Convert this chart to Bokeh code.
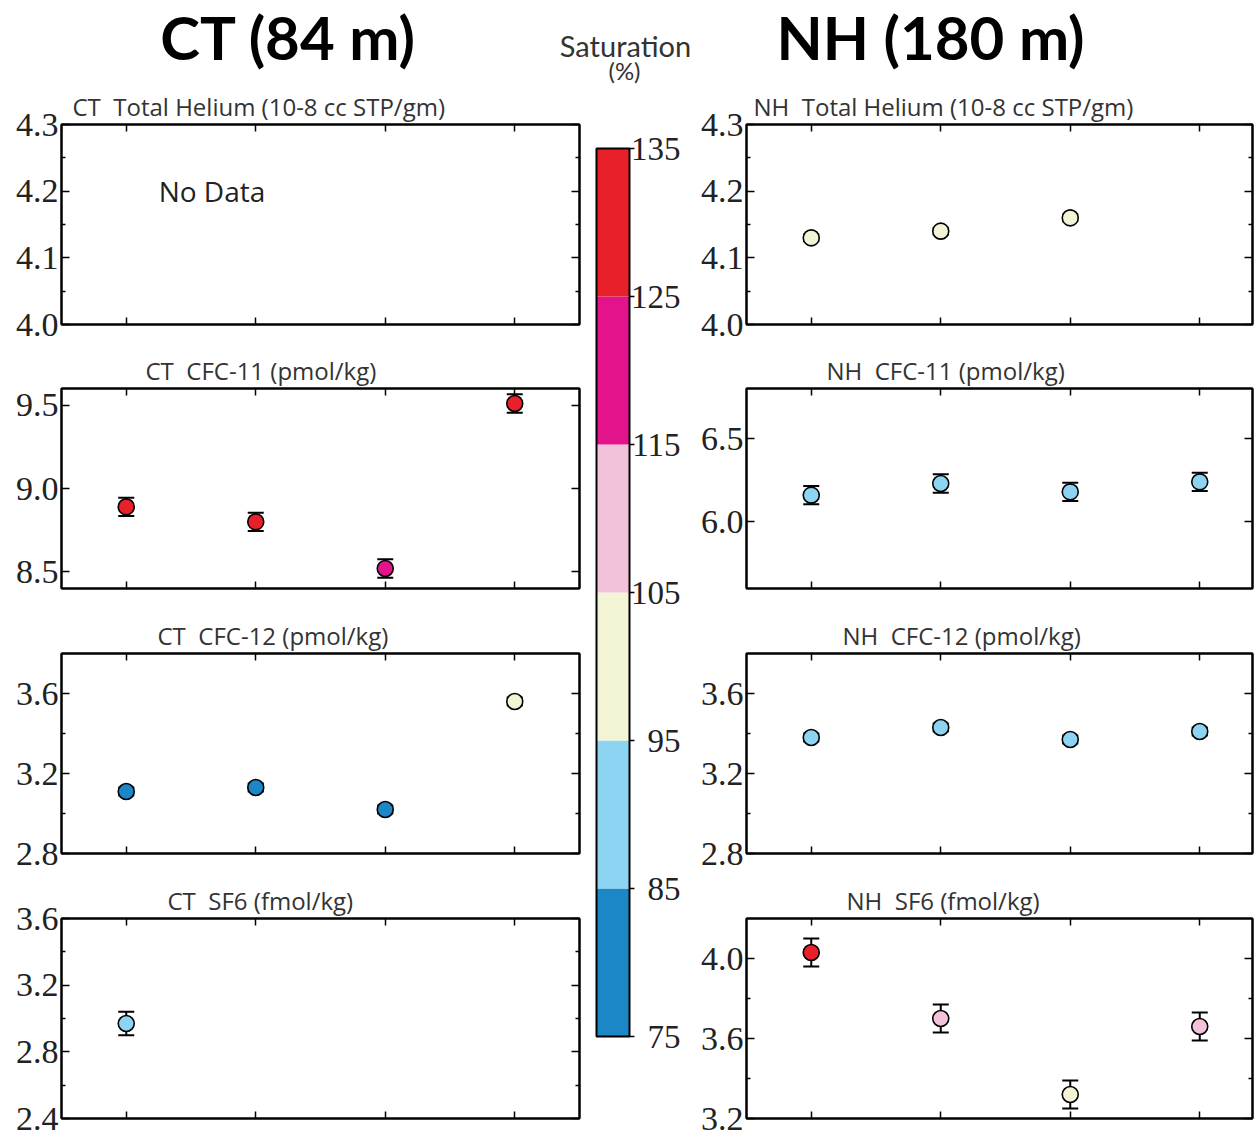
from bokeh.plotting import figure
from bokeh.layouts import column, row
from bokeh.models import (Range1d, LinearAxis, FixedTicker, ColumnDataSource, Whisker,
                          TeeHead, LinearColorMapper, Label)
from bokeh.transform import transform
from bokeh.core.properties import value
from bokeh.embed import file_html
from bokeh.resources import INLINE

# ---------------- data ----------------
sample_ticks = [1, 2, 3, 4]

# Saturation colour scale (%)
sat_bounds = [75, 85, 95, 105, 115, 125, 135]
sat_labels = ["75", "85", "95", "105", "115", "125", "135"]
sat_colors = ["#1b87c7", "#8dd4f2", "#f3f3d5", "#f2c2da", "#e2138b", "#e8202a"]

# CT (84 m)
ct_he_x, ct_he, ct_he_err, ct_he_sat = [], [], [], []
ct_cfc11_x = [1, 2, 3, 4]
ct_cfc11 = [8.89, 8.80, 8.52, 9.51]
ct_cfc11_err = [0.055, 0.055, 0.055, 0.055]
ct_cfc11_sat = [130, 130, 120, 130]
ct_cfc12_x = [1, 2, 3, 4]
ct_cfc12 = [3.11, 3.13, 3.02, 3.56]
ct_cfc12_err = [0.02, 0.02, 0.02, 0.02]
ct_cfc12_sat = [80, 80, 80, 100]
ct_sf6_x = [1]
ct_sf6 = [2.97]
ct_sf6_err = [0.07]
ct_sf6_sat = [90]

# NH (180 m)
nh_he_x = [1, 2, 3]
nh_he = [4.13, 4.14, 4.16]
nh_he_err = [0.005, 0.005, 0.005]
nh_he_sat = [100, 100, 100]
nh_cfc11_x = [1, 2, 3, 4]
nh_cfc11 = [6.16, 6.23, 6.18, 6.24]
nh_cfc11_err = [0.055, 0.055, 0.055, 0.055]
nh_cfc11_sat = [90, 90, 90, 90]
nh_cfc12_x = [1, 2, 3, 4]
nh_cfc12 = [3.38, 3.43, 3.37, 3.41]
nh_cfc12_err = [0.02, 0.02, 0.02, 0.02]
nh_cfc12_sat = [90, 90, 90, 90]
nh_sf6_x = [1, 2, 3, 4]
nh_sf6 = [4.03, 3.70, 3.32, 3.66]
nh_sf6_err = [0.07, 0.07, 0.07, 0.07]
nh_sf6_sat = [130, 110, 100, 110]

# axes
he_range, he_ticks, he_minor, he_labels = (4.0, 4.3), [4.0, 4.1, 4.2, 4.3], [4.05, 4.15, 4.25], ["4.0", "4.1", "4.2", "4.3"]
ct11_range, ct11_ticks, ct11_minor, ct11_labels = (8.4, 9.6), [8.5, 9.0, 9.5], [], ["8.5", "9.0", "9.5"]
c12_range, c12_ticks, c12_minor, c12_labels = (2.8, 3.8), [2.8, 3.2, 3.6], [3.0, 3.4], ["2.8", "3.2", "3.6"]
ctsf_range, ctsf_ticks, ctsf_minor, ctsf_labels = (2.4, 3.6), [2.4, 2.8, 3.2, 3.6], [2.6, 3.0, 3.4], ["2.4", "2.8", "3.2", "3.6"]
nh11_range, nh11_ticks, nh11_minor, nh11_labels = (5.6, 6.8), [6.0, 6.5], [], ["6.0", "6.5"]
nhsf_range, nhsf_ticks, nhsf_minor, nhsf_labels = (3.2, 4.2), [3.2, 3.6, 4.0], [3.4, 3.8], ["3.2", "3.6", "4.0"]

mapper = LinearColorMapper(palette=sat_colors, low=sat_bounds[0], high=sat_bounds[-1])

SANS = "Open Sans"
HEAD = "Lato"
SERIF = "Liberation Serif"
TXT = "#222222"
NB = "\u00a0"


def style_hidden_axis(ax):
    ax.major_label_text_font_size = "0px"
    ax.major_label_text_color = None
    ax.major_label_standoff = 0
    ax.major_tick_out = 0
    ax.minor_tick_out = 0
    ax.axis_line_width = 2
    ax.axis_line_color = "black"
    ax.major_tick_line_width = 1.5
    ax.minor_tick_line_width = 1.5


def panel(title, toff, xr, yr, yt, ym, yl, x, y, err, sat, fw, bl, br, bt, bb, nodata=False):
    p = figure(frame_width=fw, frame_height=200, x_range=Range1d(*xr), y_range=Range1d(*yr),
               output_backend="svg", toolbar_location=None,
               min_border_left=bl, min_border_right=br, min_border_top=bt, min_border_bottom=bb,
               outline_line_color="black", outline_line_width=2, background_fill_color="white",
               border_fill_color="white")
    p.grid.visible = False
    p.title.text = title
    p.title.align = "left"
    p.title.offset = toff
    p.title.standoff = 3
    p.title.text_font = SANS
    p.title.text_font_style = "normal"
    p.title.text_font_size = "24px"
    p.title.text_color = "#333333"

    # bottom x axis (ticks only)
    xa = p.xaxis[0]
    xa.ticker = FixedTicker(ticks=sample_ticks)
    style_hidden_axis(xa)
    xa.major_tick_in = 7
    xa.minor_tick_in = 0
    # top x axis
    xt = LinearAxis(ticker=FixedTicker(ticks=sample_ticks))
    style_hidden_axis(xt)
    xt.major_tick_in = 7
    xt.minor_tick_in = 0
    p.add_layout(xt, "above")

    # left y axis
    ya = p.yaxis[0]
    ya.ticker = FixedTicker(ticks=yt, minor_ticks=ym)
    ya.major_label_overrides = {t: l for t, l in zip(yt, yl)}
    ya.major_label_text_font = SERIF
    ya.major_label_text_font_size = "34px"
    ya.major_label_text_color = TXT
    ya.major_label_standoff = 3
    ya.major_tick_out = 0
    ya.minor_tick_out = 0
    ya.major_tick_in = 8
    ya.minor_tick_in = 4
    ya.axis_line_width = 2
    ya.major_tick_line_width = 1.5
    ya.minor_tick_line_width = 1.5
    # right y axis
    yr_ax = LinearAxis(ticker=FixedTicker(ticks=yt, minor_ticks=ym))
    style_hidden_axis(yr_ax)
    yr_ax.major_tick_in = 8
    yr_ax.minor_tick_in = 4
    p.add_layout(yr_ax, "right")

    if nodata:
        p.add_layout(Label(x=xr[0] + 0.75, y=(yr[0] + yr[1]) / 2 + 0.05, text="No Data",
                           text_font=SANS, text_font_size="28px", text_color=TXT,
                           text_baseline="middle", text_align="left"))
    if len(x):
        src = ColumnDataSource(dict(x=x, y=y,
                                    upper=[a + e for a, e in zip(y, err)],
                                    lower=[a - e for a, e in zip(y, err)],
                                    sat=sat))
        p.add_layout(Whisker(source=src, base="x", upper="upper", lower="lower",
                             line_width=2, line_color="black",
                             upper_head=TeeHead(size=16, line_width=2, line_color="black"),
                             lower_head=TeeHead(size=16, line_width=2, line_color="black")))
        p.scatter("x", "y", source=src, size=16, fill_color=transform("sat", mapper),
                  line_color="black", line_width=1.6)
    return p


# --------------- geometry (page pixels, origin top-left) ----------------
L_FW, L_BL, L_BR = 518, 61, 4
R_FW, R_BL, R_BR = 506, 48, 2
PX_PER_X = 129.5
left_xr = (0.5, 4.5)
right_xr = (0.5, 0.5 + R_FW / PX_PER_X)
borders = [(39, 25), (39, 25), (40, 25), (40, 21)]

ct_specs = [
    ("CT" + NB + " Total Helium (10-8 cc STP/gm)", 11, he_range, he_ticks, he_minor, he_labels, ct_he_x, ct_he, ct_he_err, ct_he_sat, True),
    ("CT" + NB + " CFC-11 (pmol/kg)", 84, ct11_range, ct11_ticks, ct11_minor, ct11_labels, ct_cfc11_x, ct_cfc11, ct_cfc11_err, ct_cfc11_sat, False),
    ("CT" + NB + " CFC-12 (pmol/kg)", 96, c12_range, c12_ticks, c12_minor, c12_labels, ct_cfc12_x, ct_cfc12, ct_cfc12_err, ct_cfc12_sat, False),
    ("CT" + NB + " SF6 (fmol/kg)", 106, ctsf_range, ctsf_ticks, ctsf_minor, ctsf_labels, ct_sf6_x, ct_sf6, ct_sf6_err, ct_sf6_sat, False),
]
nh_specs = [
    ("NH" + NB + " Total Helium (10-8 cc STP/gm)", 7, he_range, he_ticks, he_minor, he_labels, nh_he_x, nh_he, nh_he_err, nh_he_sat, False),
    ("NH" + NB + " CFC-11 (pmol/kg)", 80, nh11_range, nh11_ticks, nh11_minor, nh11_labels, nh_cfc11_x, nh_cfc11, nh_cfc11_err, nh_cfc11_sat, False),
    ("NH" + NB + " CFC-12 (pmol/kg)", 96, c12_range, c12_ticks, c12_minor, c12_labels, nh_cfc12_x, nh_cfc12, nh_cfc12_err, nh_cfc12_sat, False),
    ("NH" + NB + " SF6 (fmol/kg)", 100, nhsf_range, nhsf_ticks, nhsf_minor, nhsf_labels, nh_sf6_x, nh_sf6, nh_sf6_err, nh_sf6_sat, False),
]

left_panels = []
for s, (bt, bb) in zip(ct_specs, borders):
    t, off, yr, yt, ym, yl, x, y, e, sat, nd = s
    left_panels.append(panel(t, off, left_xr, yr, yt, ym, yl, x, y, e, sat, L_FW, L_BL, L_BR, bt, bb, nd))
right_panels = []
for s, (bt, bb) in zip(nh_specs, borders):
    t, off, yr, yt, ym, yl, x, y, e, sat, nd = s
    right_panels.append(panel(t, off, right_xr, yr, yt, ym, yl, x, y, e, sat, R_FW, R_BL, R_BR, bt, bb, nd))

# --------------- header ----------------
PAGE_X0, PAGE_X1 = 0, L_BL + L_FW + L_BR + 114 + R_BL + R_FW + R_BR
HDR_Y0, HDR_Y1 = 0, 85
hdr = figure(frame_width=PAGE_X1 - PAGE_X0, frame_height=HDR_Y1 - HDR_Y0,
             x_range=Range1d(PAGE_X0, PAGE_X1), y_range=Range1d(HDR_Y1, HDR_Y0),
             x_axis_type=None, y_axis_type=None, output_backend="svg", toolbar_location=None,
             min_border=0, outline_line_color=None)
hdr.add_layout(Label(x=288, y=36, text="CT (84 m)", text_align="center", text_baseline="middle",
                     text_font=HEAD, text_font_style="bold", text_font_size="60px", text_color="black"))
hdr.add_layout(Label(x=930, y=36, text="NH (180 m)", text_align="center", text_baseline="middle",
                     text_font=HEAD, text_font_style="bold", text_font_size="60px", text_color="black"))
hdr.add_layout(Label(x=625, y=45, text="Saturation", text_align="center", text_baseline="middle",
                     text_font=HEAD, text_font_size="29px", text_color="#333333"))
hdr.add_layout(Label(x=624, y=70, text="(%)", text_align="center", text_baseline="middle",
                     text_font=HEAD, text_font_size="24px", text_color="#333333"))

# --------------- colour bar ----------------
MID_X0 = L_BL + L_FW + L_BR
MID_X1 = MID_X0 + 114
MID_Y0, MID_Y1 = HDR_Y1, HDR_Y1 + sum(bt + 200 + bb for bt, bb in borders)
BAR_X0, BAR_W = 596, 33
BAR_TOP, BAR_BOT = 148, 1036
ppu = (BAR_BOT - BAR_TOP) / (sat_bounds[-1] - sat_bounds[0])
mid = figure(frame_width=MID_X1 - MID_X0, frame_height=MID_Y1 - MID_Y0,
             x_range=Range1d((MID_X0 - BAR_X0) / BAR_W, (MID_X1 - BAR_X0) / BAR_W),
             y_range=Range1d(sat_bounds[0] - (MID_Y1 - BAR_BOT) / ppu, sat_bounds[-1] + (BAR_TOP - MID_Y0) / ppu),
             x_axis_type=None, y_axis_type=None, output_backend="svg", toolbar_location=None,
             min_border=0, outline_line_color=None)
mid.quad(left=0, right=1, bottom=sat_bounds[:-1], top=sat_bounds[1:], fill_color=sat_colors, line_color=None)
mid.quad(left=[0], right=[1], bottom=[sat_bounds[0]], top=[sat_bounds[-1]], fill_color=None,
         line_color="black", line_width=2)
mid.segment(x0=1, x1=1.15, y0=sat_bounds, y1=sat_bounds, line_color="black", line_width=1.5)
mid.text(x=(680 - BAR_X0) / BAR_W, y=sat_bounds, text=sat_labels, text_align="right",
         text_baseline="middle", text_font=value(SERIF), text_font_size="33px", text_color=TXT)

layout = column(hdr, row(column(*left_panels), mid, column(*right_panels)))

open("out.html", "w").write(file_html(layout, INLINE))
